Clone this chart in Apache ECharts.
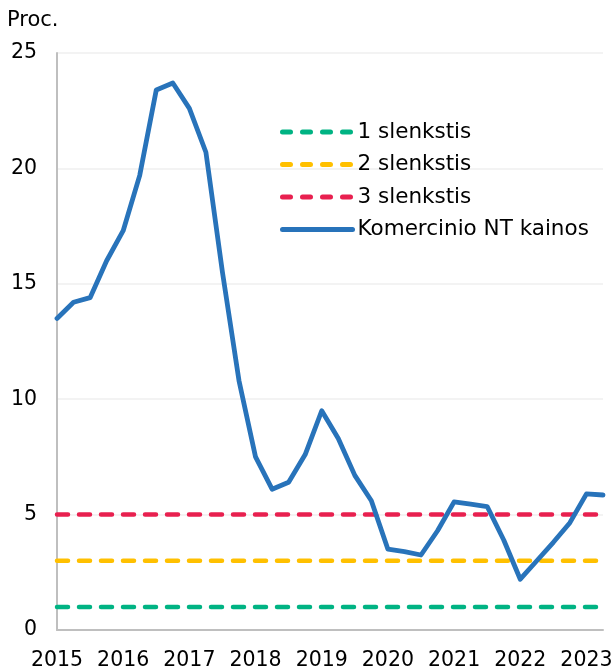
<!DOCTYPE html>
<html>
<head>
<meta charset="utf-8">
<script src="https://cdn.jsdelivr.net/npm/echarts@6/dist/echarts.min.js"></script>
<style>
  html, body { margin: 0; padding: 0; background: #fff; }
  #chart { width: 616px; height: 671px; }
</style>
</head>
<body>
<div id="chart"></div>
<script>
// ketvirčiai 2015 Q1 - 2023 Q2
const years = ['2015', '2016', '2017', '2018', '2019', '2020', '2021', '2022', '2023']
const quarters = ['Q1', 'Q2', 'Q3', 'Q4']
const categories = []
years.forEach(y => quarters.forEach(q => categories.push(y + ' ' + q)))
categories.length = 34

const prices = [
  13.5, 14.2, 14.4, 16.0, 17.3, 19.7, 23.4, 23.7, 22.6, 20.7,
  15.5, 10.8, 7.5, 6.1, 6.4, 7.6, 9.5, 8.3, 6.7, 5.6,
  3.5, 3.4, 3.25, 4.3, 5.55, 5.45, 5.35, 3.9, 2.2, 3.0,
  3.8, 4.65, 5.9, 5.85
]

const thresholdNames = ['1 slenkstis', '2 slenkstis', '3 slenkstis']
const thresholdValues = [1, 3, 5]
const thresholdColors = ['#00B383', '#FFC000', '#E8204F']
const yTicks = [0, 5, 10, 15, 20, 25]

const font = 'DejaVu Sans'
const chart = echarts.init(document.getElementById('chart'))

const series = thresholdNames.map((name, i) => ({
  name: name,
  type: 'line',
  symbol: 'none',
  data: categories.map(() => thresholdValues[i]),
  lineStyle: { color: thresholdColors[i], width: 4.5, type: [11, 11], cap: 'round' },
  itemStyle: { color: thresholdColors[i] },
  z: 2
}))
series.push({
  name: 'Komercinio NT kainos',
  type: 'line',
  symbol: 'none',
  data: prices,
  lineStyle: { color: '#2873BA', width: 4.8, join: 'round', cap: 'round' },
  itemStyle: { color: '#2873BA' },
  z: 3
})

const option = {
  animation: false,
  textStyle: { fontFamily: font },
  graphic: [{
    type: 'text',
    left: 7,
    top: 10,
    style: { text: 'Proc.', font: '21px "DejaVu Sans"', fill: '#000' }
  }],
  legend: {
    orient: 'vertical',
    left: 275,
    top: 116,
    itemWidth: 70,
    itemHeight: 14,
    itemGap: 10.5,
    itemStyle: { opacity: 0 },
    lineStyle: { width: 5, cap: 'round', type: [8, 12] },
    textStyle: { fontFamily: font, fontSize: 21.5, lineHeight: 22, color: '#000' },
    data: thresholdNames.map(n => ({ name: n }))
      .concat([{ name: 'Komercinio NT kainos', lineStyle: { type: 'solid' } }])
  },
  grid: { left: 57, right: 13, top: 53, bottom: 40, containLabel: false },
  xAxis: {
    type: 'category',
    boundaryGap: false,
    data: categories,
    axisLine: { lineStyle: { color: '#BFBFBF', width: 2 } },
    axisTick: { show: false },
    axisLabel: {
      interval: 3,
      margin: 20,
      color: '#000',
      fontFamily: font,
      fontSize: 20.5,
      formatter: v => v.slice(0, 4)
    },
    splitLine: { show: false }
  },
  yAxis: {
    type: 'value',
    min: yTicks[0],
    max: yTicks[yTicks.length - 1],
    interval: 5,
    axisLine: { show: true, lineStyle: { color: '#BFBFBF', width: 2 } },
    axisTick: { show: false },
    axisLabel: { margin: 20, color: '#000', fontFamily: font, fontSize: 20.5 },
    splitLine: { lineStyle: { color: '#EFEFEF', width: 1.5 } }
  },
  series: series
}
chart.setOption(option)
</script>
</body>
</html>
